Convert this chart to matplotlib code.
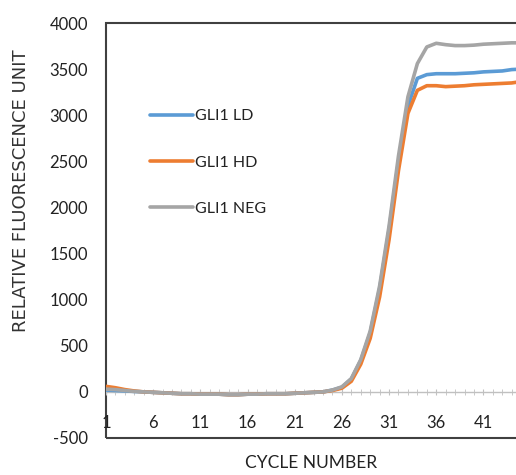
import matplotlib
matplotlib.use("Agg")
import matplotlib.pyplot as plt
from matplotlib.patches import Rectangle

cycles = list(range(1, 46))
ld = [20, 15, 10, 5, 0, -5, -10, -15, -20, -20, -25, -25, -25, -30, -30, -25, -25, -20, -20, -20,
      -15, -10, -5, 0, 20, 50, 140, 340, 640, 1120, 1760, 2500, 3100, 3400, 3440, 3450, 3450, 3450,
      3455, 3460, 3470, 3475, 3480, 3495, 3500]
hd = [60, 45, 25, 10, 0, -5, -10, -15, -20, -20, -25, -25, -25, -30, -30, -25, -25, -20, -20, -20,
      -15, -10, -5, 0, 15, 40, 115, 300, 580, 1030, 1650, 2400, 3020, 3270, 3320, 3320, 3310, 3315,
      3320, 3330, 3335, 3340, 3345, 3350, 3365]
neg = [30, 25, 15, 5, 0, -5, -10, -15, -20, -20, -25, -25, -25, -30, -30, -25, -25, -20, -20, -20,
       -15, -10, -5, 0, 20, 55, 145, 350, 660, 1150, 1800, 2560, 3200, 3560, 3740, 3780, 3765, 3755,
       3755, 3760, 3770, 3775, 3780, 3785, 3785]
series_names = ["GLI1 LD", "GLI1 HD", "GLI1 NEG"]
colors = ["#5B9BD5", "#ED7D31", "#A5A5A5"]
yticks = [-500, 0, 500, 1000, 1500, 2000, 2500, 3000, 3500, 4000]
xtick_labels = [1, 6, 11, 16, 21, 26, 31, 36, 41]

font = "Lato"

fig = plt.figure(figsize=(5.16, 4.75), dpi=100)
ax = fig.add_axes([106/516, 1-438/475, 1.0 - 106/516 + 0.01, (438-23)/475])

for vals, name, c in zip([ld, hd, neg], series_names, colors):
    ax.plot(cycles, vals, color=c, lw=2.6, label=name, solid_capstyle="round")

ax.set_xlim(1, 45)
ax.set_ylim(-500, 4000)
ax.set_yticks(yticks)
ax.set_yticklabels([str(v) for v in yticks], family=font, fontsize=12, color="#222222")

for s in ["top", "left", "right"]:
    ax.spines[s].set_visible(False)
ax.spines["bottom"].set_position(("data", 0))
ax.spines["bottom"].set_color("#C0C0C0")
ax.spines["bottom"].set_linewidth(1)
ax.spines["bottom"].set_zorder(0)

ax.set_xticks(cycles, minor=True)
ax.set_xticks(xtick_labels)
ax.set_xticklabels([str(v) for v in xtick_labels], family=font, fontsize=12, color="#222222")
ax.tick_params(axis="x", which="both", direction="inout", length=5, color="#C0C0C0", pad=14)
ax.tick_params(axis="y", length=0, pad=13)

frame = Rectangle((0, 0), 1, 1, transform=ax.transAxes, fill=False, edgecolor="#404040",
                  lw=1.5, clip_on=False)
ax.add_patch(frame)

fig.text(21/516, 1-191/475, "RELATIVE FLUORESCENCE UNIT", rotation=90, ha="center", va="center",
         family="DejaVu Sans", fontsize=13, color="#333333")
fig.text(311/516, 1-463/475, "CYCLE NUMBER", ha="center", va="center", family=font,
         fontsize=12.5, color="#222222")

leg = ax.legend(loc="upper left", bbox_to_anchor=(150/516, 1-109/475), bbox_transform=fig.transFigure,
                frameon=False, borderpad=0, borderaxespad=0, handlelength=2.7, handletextpad=0.1,
                labelspacing=2.02, prop={"family": font, "size": 11.5})
for t in leg.get_texts():
    t.set_color("#222222")

fig.savefig("out.png", dpi=100)
